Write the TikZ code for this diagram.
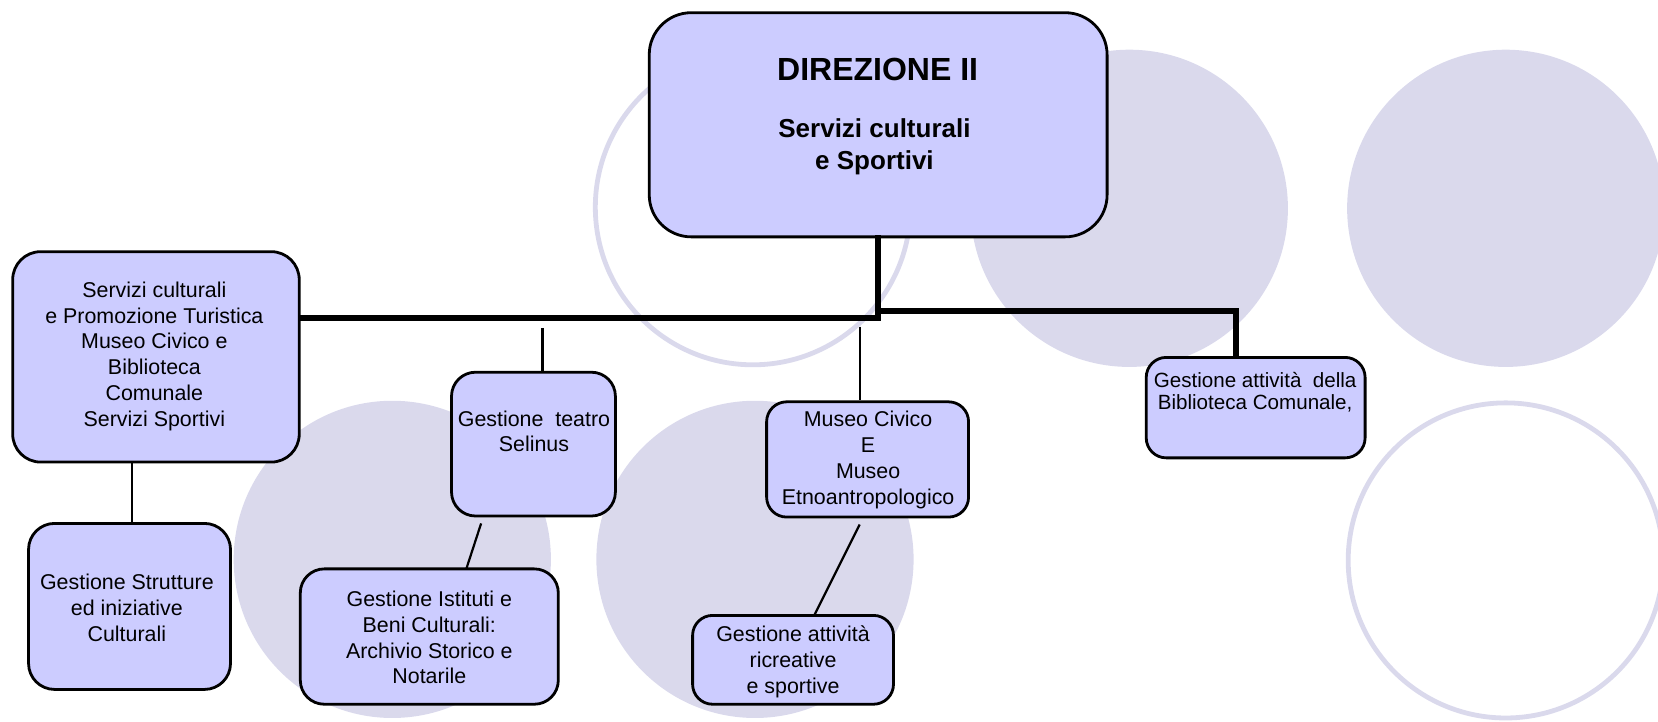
\documentclass[tikz,border=0pt]{standalone}
\usepackage{fontspec}
\setmainfont{Liberation Sans}
\usetikzlibrary{fit}
\definecolor{boxfill}{HTML}{CCCCFF}
\definecolor{circ}{RGB}{218,217,236}
\begin{document}
\begin{tikzpicture}[x=0.5287pt,y=-0.5287pt,
  box/.style={draw=black, line width=1.4pt, fill=boxfill, inner sep=0pt},
  txt/.style={align=center, font=\fontsize{10.7}{12.9}\selectfont, inner sep=0pt},
  thickln/.style={line width=3pt, line cap=rect},
  thinln/.style={line width=1.1pt},
  bgdisc/.style={fill=circ, draw=none},
  ring/.style={draw=circ, line width=2.4pt}]
\useasboundingbox (0,0) rectangle (1568,682);
\clip (0,0) rectangle (1568,682);
% background circles
\fill[bgdisc] (1068,197) circle (150);
\fill[bgdisc] (1424,197) circle (150);
\fill[bgdisc] (371,529) circle (150);
\fill[bgdisc] (714,529) circle (150);
\draw[ring] (712,196) circle (149);
\draw[ring] (1424,530) circle (149);
% boxes
\node[box, rounded corners=21pt, fit={(614,12) (1047,224)}] (D) {};
\node[box, rounded corners=14pt, fit={(12,238) (283,437)}] (L) {};
\node[box, rounded corners=13pt, fit={(27,495) (218,652)}] (S) {};
\node[box, rounded corners=12pt, fit={(427,352) (582,488)}] (T) {};
\node[box, rounded corners=12pt, fit={(284,538) (528,666)}] (I) {};
\node[box, rounded corners=10pt, fit={(725,380) (916,489)}] (M) {};
\node[box, rounded corners=10pt, fit={(655,582) (845,666)}] (R) {};
\node[box, rounded corners=10pt, fit={(1084,338) (1291,433)}] (B) {};
% texts
\node[txt, font=\fontsize{16}{19}\selectfont\bfseries] (Dt1) at (830,66) {DIREZIONE II};
\node[txt, font=\fontsize{13}{15.9}\selectfont\bfseries] (Dt2) at (827,139) {Servizi culturali\\e Sportivi};
\node[txt] (Lt) at (146,337) {Servizi culturali\\e Promozione Turistica\\Museo Civico e\\Biblioteca\\Comunale\\Servizi Sportivi};
\node[txt] (St) at (120,575) {Gestione Strutture\\ed iniziative\\Culturali};
\node[txt] (Tt) at (505,408) {Gestione~ teatro\\Selinus};
\node[txt] (It) at (406,603) {Gestione Istituti e\\Beni Culturali:\\Archivio Storico e\\Notarile};
\node[txt] (Mt) at (821,435) {Museo Civico\\E\\Museo\\Etnoantropologico};
\node[txt] (Rt) at (750,626) {Gestione attività\\ricreative\\e sportive};
\node[txt, font=\fontsize{10.3}{10.7}\selectfont] (Bt) at (1187,371) {Gestione attività~ della\\Biblioteca Comunale,};
% connector points
\coordinate (hl) at (0,301);
\coordinate (jr) at (1169,294);
\coordinate (t1) at (513,310);
\coordinate (m1) at (813,309);
\coordinate (ti1) at (455,495);
\coordinate (ti2) at (441,538);
\coordinate (mr1) at (813,496);
\coordinate (mr2) at (770,582);
% connectors
\draw[thickln] (D.south) -- (D.south |- hl) -- (L.east |- hl);
\draw[thickln] (D.south |- jr) -- (jr) -- (jr |- B.north);
\draw[thinln] (t1) -- (t1 |- T.north);
\draw[thinln] (m1) -- (m1 |- M.north);
\draw[thinln] (L.south -| 125,0) -- (S.north -| 125,0);
\draw[thinln] (ti1) -- (ti2);
\draw[thinln] (mr1) -- (mr2);
\end{tikzpicture}
\end{document}
